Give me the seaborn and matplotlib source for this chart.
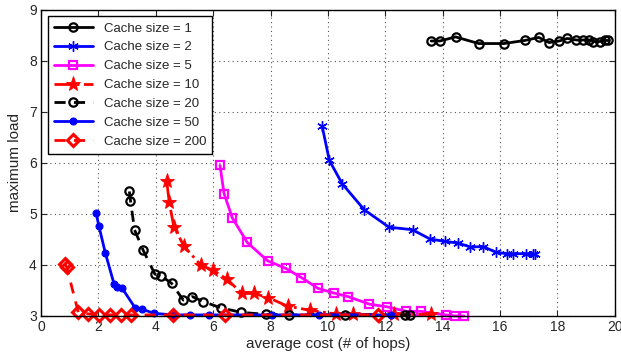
import matplotlib
matplotlib.use("Agg")
import matplotlib.pyplot as plt
import seaborn as sns
import pandas as pd

# ---- data ----
c1_x = [13.6, 13.9, 14.45, 15.26, 16.13, 16.86, 17.35, 17.71, 18.06, 18.35, 18.66, 18.9, 19.1, 19.24, 19.48, 19.65, 19.77]
c1_y = [8.39, 8.39, 8.47, 8.34, 8.34, 8.40, 8.46, 8.36, 8.39, 8.44, 8.41, 8.41, 8.41, 8.38, 8.38, 8.40, 8.40]

c2_x = [9.80, 10.05, 10.50, 11.27, 12.13, 12.95, 13.55, 14.08, 14.53, 14.97, 15.41, 15.85, 16.23, 16.46, 16.92, 17.15, 17.22]
c2_y = [6.72, 6.05, 5.59, 5.08, 4.74, 4.69, 4.51, 4.46, 4.43, 4.35, 4.36, 4.25, 4.22, 4.22, 4.22, 4.21, 4.21]

c5_x = [6.24, 6.38, 6.67, 7.19, 7.90, 8.54, 9.08, 9.66, 10.20, 10.70, 11.45, 12.05, 12.74, 13.23, 14.11, 14.42, 14.75]
c5_y = [5.95, 5.40, 4.92, 4.44, 4.08, 3.93, 3.75, 3.54, 3.45, 3.38, 3.23, 3.18, 3.09, 3.09, 3.02, 3.00, 3.00]

c10_x = [4.38, 4.47, 4.63, 4.98, 5.58, 5.99, 6.48, 7.01, 7.43, 7.92, 8.60, 9.39, 10.27, 10.88, 12.30, 13.58]
c10_y = [5.65, 5.23, 4.75, 4.37, 3.99, 3.90, 3.72, 3.44, 3.44, 3.36, 3.19, 3.11, 3.04, 3.03, 3.03, 3.03]

c20_x = [3.08, 3.12, 3.26, 3.56, 3.97, 4.20, 4.55, 4.96, 5.27, 5.66, 6.26, 6.98, 7.85, 8.63, 10.60, 12.68, 12.86]
c20_y = [5.44, 5.26, 4.69, 4.29, 3.82, 3.78, 3.64, 3.31, 3.38, 3.28, 3.16, 3.07, 3.03, 3.02, 3.02, 3.02, 3.02]

c50_x = [1.92, 2.02, 2.24, 2.55, 2.66, 2.82, 3.28, 3.53, 3.95, 4.61, 5.19, 5.87, 8.05, 9.70, 12.20]
c50_y = [5.02, 4.76, 4.24, 3.62, 3.57, 3.55, 3.16, 3.13, 3.05, 3.02, 3.02, 3.02, 3.02, 3.02, 3.02]

c200_x = [0.85, 0.90, 1.30, 1.65, 2.02, 2.40, 2.78, 3.14, 4.60, 6.42, 11.75]
c200_y = [4.02, 3.95, 3.07, 3.04, 3.02, 3.02, 3.02, 3.02, 3.02, 3.02, 3.02]

labels = ["Cache size = 1", "Cache size = 2", "Cache size = 5", "Cache size = 10",
          "Cache size = 20", "Cache size = 50", "Cache size = 200"]
xs = [c1_x, c2_x, c5_x, c10_x, c20_x, c50_x, c200_x]
ys = [c1_y, c2_y, c5_y, c10_y, c20_y, c50_y, c200_y]

x_ticks = [0, 2, 4, 6, 8, 10, 12, 14, 16, 18, 20]
y_ticks = [3, 4, 5, 6, 7, 8, 9]

colors = ["black", "blue", "magenta", "red", "black", "blue", "red"]
styles = [
    dict(linestyle="-", marker="o", markersize=6, markerfacecolor="none", markeredgewidth=1.6),
    dict(linestyle="-", marker=(6, 2, 0), markersize=7.5, markeredgewidth=1.0),
    dict(linestyle="-", marker="s", markersize=6, markerfacecolor="none", markeredgewidth=1.6),
    dict(linestyle="-.", marker="*", markersize=11, markeredgewidth=0.6),
    dict(linestyle=(0, (4, 3)), marker="o", markersize=6, markerfacecolor="none", markeredgewidth=1.6),
    dict(linestyle="-", marker="o", markersize=5, markeredgewidth=0.8),
    dict(linestyle=(0, (4, 3)), marker="D", markersize=6, markerfacecolor="none", markeredgewidth=2.2),
]

sns.set_style("ticks")
plt.rcParams["font.family"] = ["Liberation Sans", "DejaVu Sans"]

fig = plt.figure(figsize=(6.21, 3.53), dpi=100)
ax = fig.add_axes([0.066, 0.105, 0.924, 0.867])

for lab, x, y, col, st in zip(labels, xs, ys, colors, styles):
    df = pd.DataFrame({"x": x, "y": y})
    n0 = len(ax.lines)
    sns.lineplot(data=df, x="x", y="y", ax=ax, sort=False, estimator=None,
                 color=col, label=lab, linewidth=2.0)
    line = ax.lines[n0]
    line.set_linestyle(st["linestyle"])
    line.set_marker(st["marker"])
    line.set_markersize(st["markersize"])
    line.set_markeredgewidth(st["markeredgewidth"])
    line.set_markeredgecolor(col)
    line.set_markerfacecolor(st.get("markerfacecolor", col))
    line.set_color(col)
    line.set_linewidth(2.0)
    line.set_clip_on(False)

ax.set_xlim(0, 20)
ax.set_ylim(3, 9)
ax.set_xticks(x_ticks)
ax.set_yticks(y_ticks)
ax.set_xlabel("average cost (# of hops)", fontsize=11, labelpad=2)
ax.set_ylabel("maximum load", fontsize=11, labelpad=5)
ax.grid(True, linestyle=(0, (1, 3)), color="#555555", linewidth=0.8)
ax.tick_params(direction="in", top=True, right=True, labelsize=10, length=4, width=0.8, pad=3)
for sp in ax.spines.values():
    sp.set_visible(True)
    sp.set_color("black")
    sp.set_linewidth(1.0)

handles = ax.lines[:7]
leg = ax.legend(handles, labels, loc="upper left", fontsize=9.5, frameon=True, fancybox=False,
                framealpha=1, edgecolor="black", handlelength=3.0,
                borderaxespad=0.5, labelspacing=0.5, borderpad=0.45)
leg.get_frame().set_linewidth(1.0)

fig.savefig("out.png", dpi=100)
